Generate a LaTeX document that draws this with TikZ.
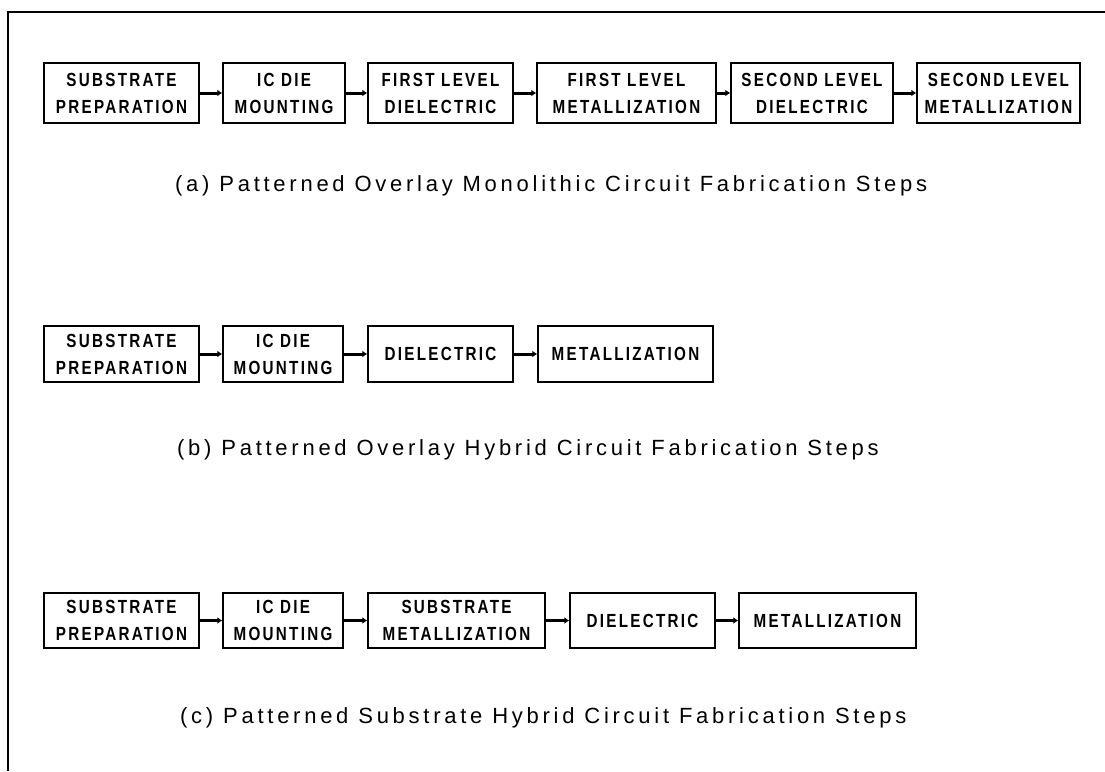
\documentclass[tikz,border=0pt]{standalone}
\usepackage{fontspec}
\usetikzlibrary{arrows.meta}
\newfontfamily\boxfont[FakeStretch=0.8, LetterSpace=12]{Liberation Sans}
\newfontfamily\capfont[LetterSpace=17]{Liberation Sans}
\tikzset{
  stepbox/.style={draw, line width=1.5pt, inner sep=0pt, align=center,
    font=\boxfont\bfseries\fontsize{19}{27}\selectfont},
  conn/.style={line width=3pt, -{Latex[length=5pt,width=7pt]}},
  frameline/.style={line width=1.8pt},
  caption/.style={anchor=base west, inner sep=0pt, font=\capfont\fontsize{22}{26}\selectfont}
}
\begin{document}
\begin{tikzpicture}[x=1pt,y=-1pt]
\useasboundingbox (0,0) rectangle (1105,771);
% frame
\coordinate (fl) at (8,771);
\coordinate (fc) at (8,12);
\coordinate (fr) at (1105,12);
\draw[frameline] (fl) -- (fc) -- (fr);

% row (a)
\node[stepbox, minimum width=155pt, minimum height=60pt] (a1) at (121.5,93) {SUBSTRATE\\PREPARATION};
\node[stepbox, minimum width=122pt, minimum height=60pt] (a2) at (284,93) {IC DIE\\MOUNTING};
\node[stepbox, minimum width=145pt, minimum height=60pt] (a3) at (440.5,93) {FIRST LEVEL\\DIELECTRIC};
\node[stepbox, minimum width=179pt, minimum height=60pt] (a4) at (626.5,93) {FIRST LEVEL\\METALLIZATION};
\node[stepbox, minimum width=162pt, minimum height=60pt] (a5) at (812,93) {SECOND LEVEL\\DIELECTRIC};
\node[stepbox, minimum width=163pt, minimum height=60pt] (a6) at (998.5,93) {SECOND LEVEL\\METALLIZATION};
\draw[conn] (a1) -- (a2);
\draw[conn] (a2) -- (a3);
\draw[conn] (a3) -- (a4);
\draw[conn] (a4) -- (a5);
\draw[conn] (a5) -- (a6);
\node[caption] (capa) at (175,191) {(a) Patterned Overlay Monolithic Circuit Fabrication Steps};

% row (b)
\node[stepbox, minimum width=155pt, minimum height=56pt] (b1) at (121.5,354) {SUBSTRATE\\PREPARATION};
\node[stepbox, minimum width=120pt, minimum height=56pt] (b2) at (283,354) {IC DIE\\MOUNTING};
\node[stepbox, minimum width=145pt, minimum height=56pt] (b3) at (440.5,354) {DIELECTRIC};
\node[stepbox, minimum width=175pt, minimum height=56pt] (b4) at (625.5,354) {METALLIZATION};
\draw[conn] (b1) -- (b2);
\draw[conn] (b2) -- (b3);
\draw[conn] (b3) -- (b4);
\node[caption] (capb) at (177,455) {(b) Patterned Overlay Hybrid Circuit Fabrication Steps};

% row (c)
\node[stepbox, minimum width=155pt, minimum height=55pt] (c1) at (121.5,620.5) {SUBSTRATE\\PREPARATION};
\node[stepbox, minimum width=120pt, minimum height=55pt] (c2) at (283,620.5) {IC DIE\\MOUNTING};
\node[stepbox, minimum width=177pt, minimum height=55pt] (c3) at (456.5,620.5) {SUBSTRATE\\METALLIZATION};
\node[stepbox, minimum width=145pt, minimum height=55pt] (c4) at (642.5,620.5) {DIELECTRIC};
\node[stepbox, minimum width=177pt, minimum height=55pt] (c5) at (827.5,620.5) {METALLIZATION};
\draw[conn] (c1) -- (c2);
\draw[conn] (c2) -- (c3);
\draw[conn] (c3) -- (c4);
\draw[conn] (c4) -- (c5);
\node[caption] (capc) at (180,723) {(c) Patterned Substrate Hybrid Circuit Fabrication Steps};
\end{tikzpicture}
\end{document}
